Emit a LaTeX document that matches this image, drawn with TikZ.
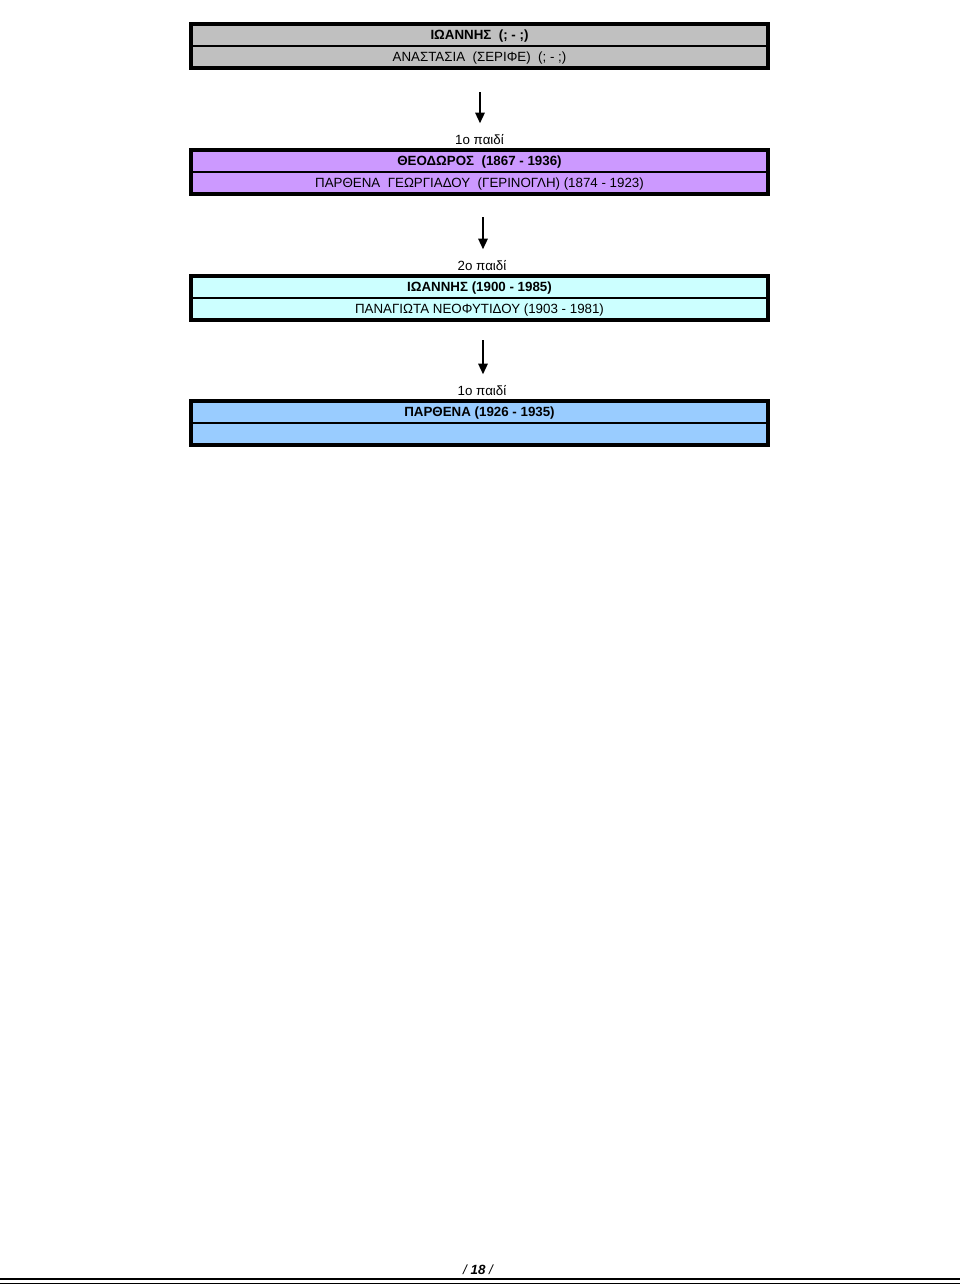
\documentclass[tikz,border=0pt]{standalone}
\usepackage{fontspec}
\setmainfont{Liberation Sans}
\usetikzlibrary{arrows.meta,positioning}
\definecolor{rowgray}{HTML}{C0C0C0}
\definecolor{rowpurple}{HTML}{CC99FF}
\definecolor{rowcyan}{HTML}{CCFFFF}
\definecolor{rowblue}{HTML}{99CCFF}
\begin{document}
\begin{tikzpicture}[x=0.75pt,y=-0.75pt,
	font=\fontsize{10}{12}\selectfont,
	row/.style={draw=black, line width=1.2pt, minimum width=432.75pt, minimum height=16.5pt, inner sep=0pt, outer sep=0pt, text depth=1.2pt, anchor=north},
	frame/.style={draw=black, line width=2.4pt},
	childlabel/.style={inner sep=1pt},
	descent/.style={line width=1.5pt, -{Triangle[length=8pt,width=7pt]}, shorten >=7.5pt}]
	\useasboundingbox (0,0) rectangle (960,1285);
	
	% 1st generation
	\node[row, fill=rowgray] (g1a) at (479.5,24) {\textbf{ΙΩΑΝΝΗΣ \ (; - ;)}};
	\node[row, fill=rowgray, below=0pt of g1a] (g1b) {ΑΝΑΣΤΑΣΙΑ \ (ΣΕΡΙΦΕ) \ (; - ;)};
	\draw[frame] (g1a.north west) rectangle (g1b.south east);
	
	% 2nd generation
	\node[childlabel] (c2) at (479.5,140) {1ο παιδί};
	\node[row, fill=rowpurple] (g2a) at (479.5,150) {\textbf{ΘΕΟΔΩΡΟΣ \ (1867 - 1936)}};
	\node[row, fill=rowpurple, below=0pt of g2a] (g2b) {ΠΑΡΘΕΝΑ \ ΓΕΩΡΓΙΑΔΟΥ \ (ΓΕΡΙΝΟΓΛΗ) (1874 - 1923)};
	\draw[frame] (g2a.north west) rectangle (g2b.south east);
	
	% 3rd generation
	\node[childlabel] (c3) at (482,266) {2ο παιδί};
	\node[row, fill=rowcyan] (g3a) at (479.5,276) {\textbf{ΙΩΑΝΝΗΣ (1900 - 1985)}};
	\node[row, fill=rowcyan, below=0pt of g3a] (g3b) {ΠΑΝΑΓΙΩΤΑ ΝΕΟΦΥΤΙΔΟΥ (1903 - 1981)};
	\draw[frame] (g3a.north west) rectangle (g3b.south east);
	
	% 4th generation
	\node[childlabel] (c4) at (482,391) {1ο παιδί};
	\node[row, fill=rowblue] (g4a) at (479.5,401) {\textbf{ΠΑΡΘΕΝΑ (1926 - 1935)}};
	\node[row, fill=rowblue, below=0pt of g4a] (g4b) {};
	\draw[frame] (g4a.north west) rectangle (g4b.south east);
	
	% Arrows
	\coordinate (a2) at (480,92);
	\coordinate (a3) at (483,217);
	\coordinate (a4) at (483,340);
	\draw[descent] (a2) -- (a2 |- c2.north);
	\draw[descent] (a3) -- (a3 |- c3.north);
	\draw[descent] (a4) -- (a4 |- c4.north);
	
	% Footer
	\node (page) at (478,1270) {\itshape / \textbf{18} /};
	\draw[line width=1.6pt] (0,1279) -- (960,1279);
	\draw[line width=1pt] (0,1283.5) -- (960,1283.5);
\end{tikzpicture}
\end{document}
